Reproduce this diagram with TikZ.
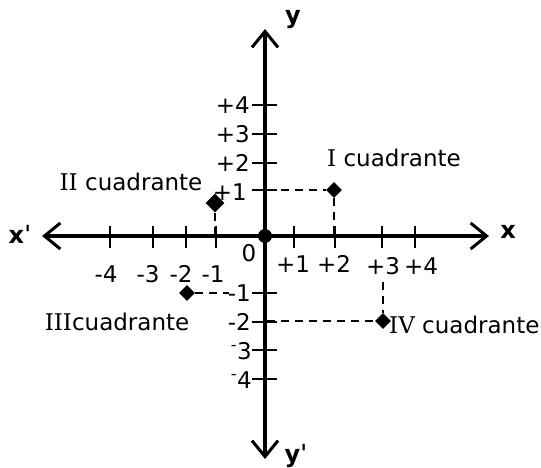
\documentclass[tikz,border=0pt]{standalone}
\usepackage{fontspec}
\setmainfont{DejaVu Sans}
\newfontfamily\romfont{DejaVu Serif}
\usetikzlibrary{arrows.meta,shapes.geometric}
\begin{document}
\begin{tikzpicture}[x=1pt,y=-1pt,
  axisline/.style={line width=4pt,
    {Straight Barb[length=16pt,width=26pt,line width=3pt]}-{Straight Barb[length=16pt,width=26pt,line width=3pt]}},
  tickline/.style={line width=2pt},
  guide/.style={line width=2pt, dash pattern=on 8pt off 6pt},
  ptmark/.style={diamond, fill=black, inner sep=0pt, minimum size=16pt},
  lab/.style={font=\fontsize{23}{23}\selectfont, inner sep=0pt},
  axlab/.style={font=\fontsize{24}{24}\selectfont\bfseries, inner sep=0pt},
]
\useasboundingbox (0,0) rectangle (541,468);

% axes
\coordinate (xl) at (42,236);
\coordinate (xr) at (489,236);
\coordinate (yt) at (265,29);
\coordinate (yb) at (265,459);
\draw[axisline] (xl) -- (xr);
\draw[axisline] (yb) -- (yt);

% ticks
\foreach \x in {110,153,186,216,294,335,382,415}
  \draw[tickline] (\x,226) -- (\x,248);
\foreach \y in {105,134,163,190,293,322,350,379}
  \draw[tickline] (252,\y) -- (277,\y);

% origin
\node[circle, fill=black, inner sep=0pt, minimum size=14pt] (O) at (265,236) {};

% axis labels
\node[axlab] (lx1) at (20,234) {xˈ};
\node[axlab] (lx) at (508,232) {x};
\node[axlab] (ly) at (293,20) {y};
\node[axlab] (ly1) at (296,456) {yˈ};

% y numbers
\node[lab, anchor=east] (ny4) at (250,105) {+4};
\node[lab, anchor=east] (ny3) at (250,134) {+3};
\node[lab, anchor=east] (ny2) at (250,163) {+2};
\node[lab, anchor=east] (ny1) at (247,192) {+1};
\node[lab, anchor=east] (nym1) at (251,293) {-1};
\node[lab, anchor=east] (nym2) at (251,322) {-2};
\node[lab, anchor=east] (nym3) at (252,351) {\textsuperscript{-}3};
\node[lab, anchor=east] (nym4) at (252,380) {\textsuperscript{-}4};

% x numbers
\node[lab] (nxm4) at (106,274) {-4};
\node[lab] (nxm3) at (148,274) {-3};
\node[lab] (nxm2) at (181,274) {-2};
\node[lab] (nxm1) at (213,274) {-1};
\node[lab] (n0) at (249,253) {0};
\node[lab] (nx1) at (293,264) {+1};
\node[lab] (nx2) at (334,264) {+2};
\node[lab] (nx3) at (383,266) {+3};
\node[lab] (nx4) at (421,266) {+4};

% points
\node[ptmark] (P1) at (334,190) {};
\node[ptmark, minimum size=19pt] (P2) at (215,203) {};
\node[ptmark] (P3) at (187,293) {};
\node[ptmark] (P4) at (383,321) {};

\coordinate (p1y) at (267,190);
\coordinate (p1x) at (334,234);
\coordinate (p2x) at (215,234);
\coordinate (p3y) at (229,293);
\coordinate (p4y) at (267,321);
\coordinate (p4t) at (383,282);

\draw[guide] (p1y) -- (P1);
\draw[guide] (P1) -- (p1x);
\draw[guide] (P2) -- (p2x);
\draw[guide] (P3) -- (p3y);
\draw[guide] (p4y) -- (P4);
\draw[guide] (p4t) -- (P4);

% quadrant labels
\node[lab] (q1) at (394,158) {{\romfont I} cuadrante};
\node[lab] (q2) at (131,182) {{\romfont II} cuadrante};
\node[lab] (q3) at (117,322) {{\romfont III}cuadrante};
\node[lab, anchor=west] (q4) at (389,325) {{\romfont IV} cuadrante};
\end{tikzpicture}
\end{document}
